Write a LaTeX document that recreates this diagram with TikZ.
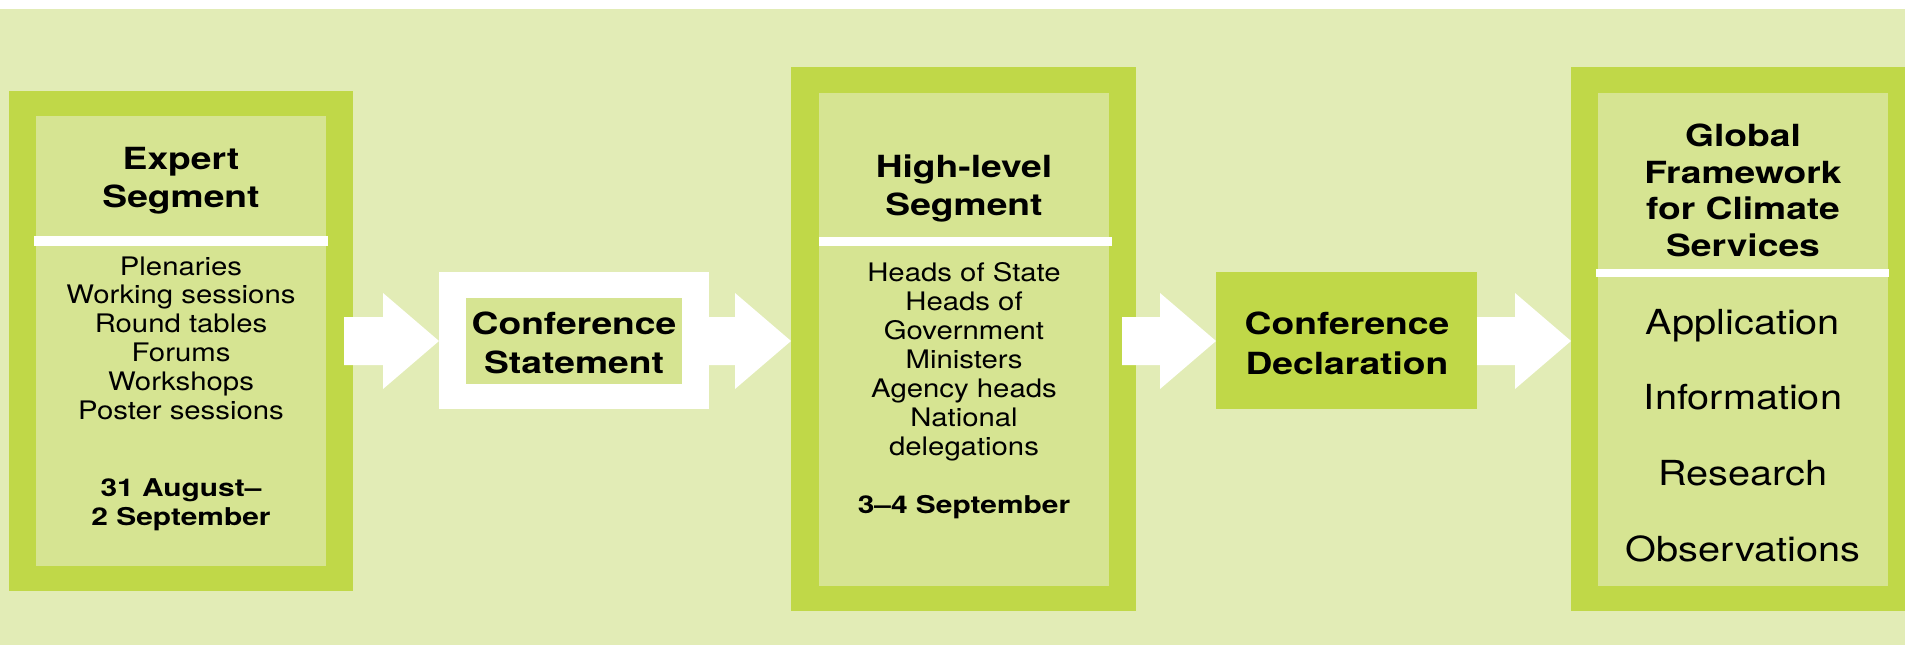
\documentclass[tikz,border=0pt]{standalone}
\usepackage{fontspec}
\setmainfont{TeX Gyre Heros}[FakeStretch=1.15]
\newfontfamily\hfont{TeX Gyre Heros}[FakeStretch=1.22]
\usetikzlibrary{calc}
\definecolor{bgc}{RGB}{226,236,182}
\definecolor{rim}{RGB}{192,216,72}
\definecolor{pane}{RGB}{214,228,146}
\newcommand\blockarrow[2]{%
  \fill[arr] let \p1=(#1), \p2=(#2) in
    (\x1,\y2-24pt) -- (\x2-56pt,\y2-24pt) -- (\x2-56pt,\y2-48pt) -- (\x2,\y2)
    -- (\x2-56pt,\y2+48pt) -- (\x2-56pt,\y2+24pt) -- (\x1,\y2+24pt) -- cycle;}
\begin{document}
\begin{tikzpicture}[x=1pt,y=-1pt,
  rimbox/.style={fill=rim,draw=none,inner sep=0pt,outer sep=0pt,anchor=north west},
  panebox/.style={fill=pane,draw=none,inner sep=0pt,outer sep=0pt,anchor=north west},
  whitebox/.style={fill=white,draw=none,inner sep=0pt,outer sep=0pt,anchor=north west},
  ttl/.style={font=\hfont\bfseries\fontsize{30.5}{36}\selectfont,anchor=base,inner sep=0pt},
  bdy/.style={font=\fontsize{25.5}{29}\selectfont,anchor=base,inner sep=0pt},
  dte/.style={font=\hfont\bfseries\fontsize{24.5}{29}\selectfont,anchor=base,inner sep=0pt},
  big/.style={font=\fontsize{34.5}{40}\selectfont,anchor=base,inner sep=0pt},
  sepline/.style={fill=white},
  arr/.style={fill=white}]
\useasboundingbox (0,0) rectangle (1905,645);
\fill[white] (0,0) rectangle (1905,9);
\fill[bgc] (0,9) rectangle (1905,645);

% Expert segment
\node[rimbox,minimum width=344pt,minimum height=500pt] (b1) at (9,91) {};
\node[panebox,minimum width=290pt,minimum height=450pt] (p1) at (36,116) {};
\fill[sepline] (34,236) rectangle (328,245.5);
\node[ttl] (t1a) at (181,169) {Expert};
\node[ttl] (t1b) at (181,207) {Segment};
\foreach \s [count=\i from 0] in {Plenaries,Working sessions,Round tables,Forums,Workshops,Poster sessions}
  \node[bdy] (e\i) at (181,{275+28.8*\i}) {\s};
\node[dte] (d1a) at (181,496) {31 August–};
\node[dte] (d1b) at (181,525) {2 September};

% Conference Statement
\node[whitebox,minimum width=270pt,minimum height=137pt] (stmt) at (439,272) {};
\node[panebox,minimum width=216pt,minimum height=86pt] (stmtin) at (466,298) {};
\node[ttl] (s1) at (574,334) {Conference};
\node[ttl] (s2) at (574,373) {Statement};

% High-level segment
\node[rimbox,minimum width=345pt,minimum height=544pt] (b2) at (791,67) {};
\node[panebox,minimum width=290pt,minimum height=493pt] (p2) at (819,93) {};
\fill[sepline] (819,237) rectangle (1112,245.5);
\node[ttl] (t2a) at (964,177) {High-level};
\node[ttl] (t2b) at (964,215) {Segment};
\foreach \s [count=\i from 0] in {Heads of State,Heads of,Government,Ministers,Agency heads,National,delegations}
  \node[bdy] (h\i) at (964,{281+29.15*\i}) {\s};
\node[dte] (d2) at (964,513) {3–4 September};

% Conference Declaration
\node[rimbox,minimum width=261pt,minimum height=137pt] (decl) at (1216,272) {};
\node[ttl] (c1) at (1347,334) {Conference};
\node[ttl] (c2) at (1347,374) {Declaration};

% GFCS
\node[rimbox,minimum width=334pt,minimum height=544pt] (b4) at (1571,67) {};
\node[panebox,minimum width=290pt,minimum height=493pt] (p4) at (1598,93) {};
\fill[sepline] (1596,269) rectangle (1889,277);
\foreach \s [count=\i from 0] in {Global,Framework,for Climate,Services}
  \node[ttl] (g\i) at (1743,{146.5+36.7*\i}) {\s};
\foreach \s [count=\i from 0] in {Application,Information,Research,Observations}
  \node[big] (f\i) at (1743,{334+75.9*\i}) {\s};

% arrows
\blockarrow{$(b1.east)+(-9pt,0pt)$}{stmt.west |- b1.east}
\blockarrow{stmt.east}{b2.west |- b1.east}
\blockarrow{$(b2.east)+(-14pt,0pt)$}{decl.west |- b1.east}
\blockarrow{decl.east}{b4.west |- b1.east}
\end{tikzpicture}
\end{document}
